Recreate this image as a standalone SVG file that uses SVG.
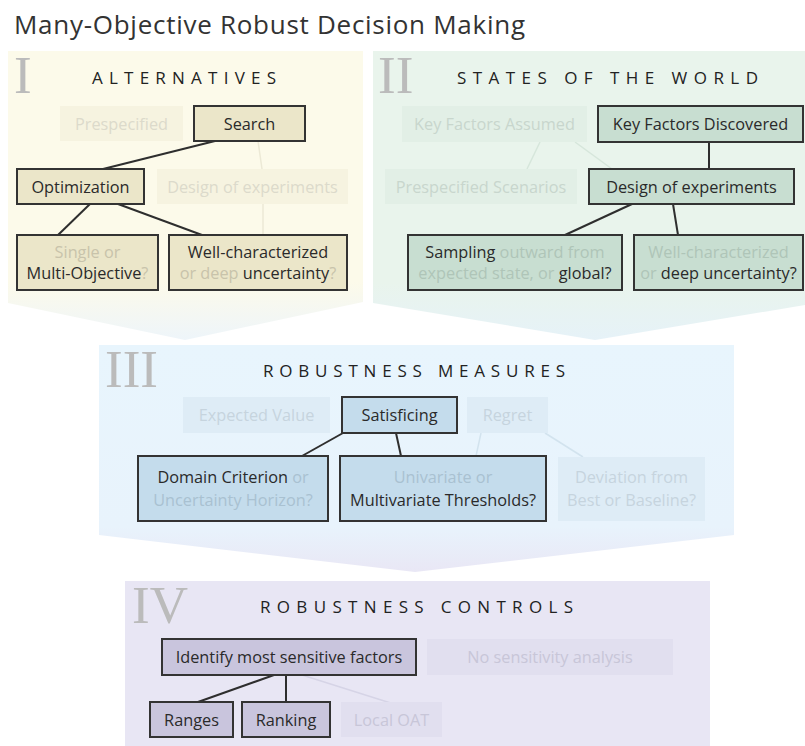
<svg xmlns="http://www.w3.org/2000/svg" width="805" height="746" viewBox="0 0 805 746">
  <defs>
    <linearGradient id="gradAlt" gradientUnits="userSpaceOnUse" x1="0" y1="51" x2="0" y2="340">
      <stop offset="0" stop-color="#fcfaea"/>
      <stop offset="0.8" stop-color="#fcfaea"/>
      <stop offset="1" stop-color="#eef5fa"/>
    </linearGradient>
    <linearGradient id="gradSow" gradientUnits="userSpaceOnUse" x1="0" y1="51" x2="0" y2="340">
      <stop offset="0" stop-color="#e9f4ec"/>
      <stop offset="0.8" stop-color="#e9f4ec"/>
      <stop offset="1" stop-color="#e6f2f8"/>
    </linearGradient>
    <linearGradient id="gradMeas" gradientUnits="userSpaceOnUse" x1="0" y1="345" x2="0" y2="572">
      <stop offset="0" stop-color="#e8f5fd"/>
      <stop offset="0.8" stop-color="#e8f3fc"/>
      <stop offset="1" stop-color="#e9e7f5"/>
    </linearGradient>
  </defs>
  <style>
    .title { font-family: "Open Sans", "Liberation Sans", sans-serif; font-size: 26px; fill: #333; }
    .num { font-family: "Liberation Serif", serif; font-size: 53px; fill: #bbbbbb; }
    .head { font-family: "Open Sans", "Liberation Sans", sans-serif; font-size: 17px; fill: #222; }
    .lbl { font-family: "Open Sans", "Liberation Sans", sans-serif; font-size: 16.3px; fill: #2a2a2a; text-anchor: middle; }
    .box { stroke: #333; stroke-width: 2; }
    .alt .box { fill: #ebe6c9; }
    .sow .box { fill: #c8ded1; }
    .meas .box { fill: #c4dcec; }
    .ctl .box { fill: #c9c5dd; }
    .alt .ghost rect { fill: #f6f3e0; }
    .sow .ghost rect { fill: #e2efe6; }
    .meas .ghost rect { fill: #deecf6; }
    .ctl .ghost rect { fill: #e1dfef; }
    .alt .dim { fill: #c8c3ab; }
    .sow .dim { fill: #afc5b8; }
    .meas .dim { fill: #a9c1d1; }
    .ctl .dim { fill: #b3afc8; }
    .alt .ghost .lbl { fill: #dcdacb; }
    .sow .ghost .lbl { fill: #c8d6cd; }
    .meas .ghost .lbl { fill: #c6d4de; }
    .ctl .ghost .lbl { fill: #c8c6d8; }
    .link { stroke: #2e2e2e; stroke-width: 2; fill: none; }
    .faint { stroke-width: 1.5; fill: none; }
    .alt-f { stroke: #ece9d6; }
    .sow-f { stroke: #d6e6db; }
    .meas-f { stroke: #d2e3ee; }
    .ctl-f { stroke: #d6d4e6; }
  </style>

  <!-- panel backgrounds -->
  <g id="panels">
    <polygon points="8,51 363,51 363,302 185,340 8,303" fill="url(#gradAlt)"/>
    <polygon points="373,51 805,51 805,305 595,340 373,303" fill="url(#gradSow)"/>
    <polygon points="99,345 734,345 734,535 415,572 99,535" fill="url(#gradMeas)"/>
    <rect x="125" y="581" width="585" height="165" fill="#e8e6f4"/>
  </g>

  <text class="title" x="14" y="34" textLength="511" lengthAdjust="spacing">Many-Objective Robust Decision Making</text>

  <!-- section headings -->
  <g id="headings">
    <text class="num" x="14" y="93">I</text>
    <text class="head" x="92" y="84" textLength="184" lengthAdjust="spacing">ALTERNATIVES</text>
    <text class="num" x="378" y="93">II</text>
    <text class="head" x="457" y="84" textLength="301" lengthAdjust="spacing">STATES OF THE WORLD</text>
    <text class="num" x="105" y="387">III</text>
    <text class="head" x="263" y="377" textLength="302" lengthAdjust="spacing">ROBUSTNESS MEASURES</text>
    <text class="num" x="132" y="623">IV</text>
    <text class="head" x="260" y="613" textLength="313" lengthAdjust="spacing">ROBUSTNESS CONTROLS</text>
  </g>

  <!-- connectors -->
  <g id="connectors">
    <line class="faint alt-f" x1="258" y1="141" x2="262" y2="169"/>
    <line class="faint alt-f" x1="263" y1="204" x2="263" y2="235"/>
    <line class="link" x1="215" y1="141" x2="103" y2="169"/>
    <line class="link" x1="90" y1="204" x2="58" y2="235"/>
    <line class="link" x1="118" y1="204" x2="202" y2="235"/>

    <line class="faint sow-f" x1="540" y1="142" x2="527" y2="169"/>
    <line class="faint sow-f" x1="575" y1="142" x2="612" y2="169"/>
    <line class="link" x1="709" y1="142" x2="709" y2="169"/>
    <line class="link" x1="632" y1="204" x2="565" y2="235"/>
    <line class="link" x1="673" y1="204" x2="678" y2="235"/>

    <line class="faint meas-f" x1="481" y1="433" x2="476" y2="456"/>
    <line class="faint meas-f" x1="545" y1="433" x2="583" y2="457"/>
    <line class="link" x1="343" y1="433" x2="302" y2="456"/>
    <line class="link" x1="396" y1="433" x2="401" y2="456"/>

    <line class="faint ctl-f" x1="302" y1="675" x2="397" y2="705"/>
    <line class="link" x1="274" y1="675" x2="198" y2="702"/>
    <line class="link" x1="286" y1="675" x2="286" y2="702"/>
  </g>

  <!-- I: alternatives -->
  <g class="alt">
    <g id="prespecified" class="ghost">
      <rect x="60" y="106" width="123" height="35"/>
      <text class="lbl" x="121.5" y="130">Prespecified</text>
    </g>
    <g id="search">
      <rect class="box" x="194" y="106" width="111" height="35"/>
      <text class="lbl" x="249.5" y="130">Search</text>
    </g>
    <g id="optimization">
      <rect class="box" x="17" y="169" width="127" height="35"/>
      <text class="lbl" x="80.5" y="193">Optimization</text>
    </g>
    <g id="alt-design" class="ghost">
      <rect x="157" y="169" width="191" height="35"/>
      <text class="lbl" x="252.5" y="193">Design of experiments</text>
    </g>
    <g id="objectives">
      <rect class="box" x="17" y="235" width="141" height="55"/>
      <text class="lbl" x="87.5" y="258"><tspan class="dim">Single or</tspan></text>
      <text class="lbl" x="87.5" y="279">Multi-Objective<tspan class="dim">?</tspan></text>
    </g>
    <g id="alt-uncertainty">
      <rect class="box" x="169" y="235" width="178" height="55"/>
      <text class="lbl" x="258" y="258">Well-characterized</text>
      <text class="lbl" x="258" y="279"><tspan class="dim">or deep</tspan> uncertainty<tspan class="dim">?</tspan></text>
    </g>
  </g>

  <!-- II: states of the world -->
  <g class="sow">
    <g id="factors-assumed" class="ghost">
      <rect x="402" y="106" width="185" height="36"/>
      <text class="lbl" x="494.5" y="130">Key Factors Assumed</text>
    </g>
    <g id="factors-discovered">
      <rect class="box" x="598" y="106" width="205" height="36"/>
      <text class="lbl" x="700.5" y="130">Key Factors Discovered</text>
    </g>
    <g id="scenarios" class="ghost">
      <rect x="385" y="169" width="192" height="35"/>
      <text class="lbl" x="481" y="193">Prespecified Scenarios</text>
    </g>
    <g id="sow-design">
      <rect class="box" x="589" y="169" width="205" height="35"/>
      <text class="lbl" x="691.5" y="193">Design of experiments</text>
    </g>
    <g id="sampling">
      <rect class="box" x="408" y="235" width="214" height="55"/>
      <text class="lbl" x="515" y="258">Sampling<tspan class="dim"> outward from</tspan></text>
      <text class="lbl" x="515" y="279"><tspan class="dim">expected state, or</tspan> global?</text>
    </g>
    <g id="sow-uncertainty">
      <rect class="box" x="634" y="235" width="169" height="55"/>
      <text class="lbl" x="718.5" y="258"><tspan class="dim">Well-characterized</tspan></text>
      <text class="lbl" x="718.5" y="279"><tspan class="dim">or</tspan> deep uncertainty?</text>
    </g>
  </g>

  <!-- III: robustness measures -->
  <g class="meas">
    <g id="expected-value" class="ghost">
      <rect x="183" y="397" width="147" height="36"/>
      <text class="lbl" x="256.5" y="421">Expected Value</text>
    </g>
    <g id="satisficing">
      <rect class="box" x="342" y="397" width="115" height="36"/>
      <text class="lbl" x="399.5" y="421">Satisficing</text>
    </g>
    <g id="regret" class="ghost">
      <rect x="467" y="397" width="81" height="36"/>
      <text class="lbl" x="507.5" y="421">Regret</text>
    </g>
    <g id="domain-criterion">
      <rect class="box" x="138" y="456" width="190" height="65"/>
      <text class="lbl" x="233" y="483">Domain Criterion<tspan class="dim"> or</tspan></text>
      <text class="lbl" x="233" y="506"><tspan class="dim">Uncertainty Horizon?</tspan></text>
    </g>
    <g id="thresholds">
      <rect class="box" x="340" y="456" width="206" height="65"/>
      <text class="lbl" x="443" y="483"><tspan class="dim">Univariate or</tspan></text>
      <text class="lbl" x="443" y="506">Multivariate Thresholds?</text>
    </g>
    <g id="deviation" class="ghost">
      <rect x="558" y="457" width="147" height="64"/>
      <text class="lbl" x="631.5" y="483">Deviation from</text>
      <text class="lbl" x="631.5" y="506">Best or Baseline?</text>
    </g>
  </g>

  <!-- IV: robustness controls -->
  <g class="ctl">
    <g id="sensitive-factors">
      <rect class="box" x="162" y="639" width="254" height="36"/>
      <text class="lbl" x="289" y="663">Identify most sensitive factors</text>
    </g>
    <g id="no-sensitivity" class="ghost">
      <rect x="427" y="639" width="246" height="36"/>
      <text class="lbl" x="550" y="663">No sensitivity analysis</text>
    </g>
    <g id="ranges">
      <rect class="box" x="150" y="702" width="83" height="35"/>
      <text class="lbl" x="191.5" y="726">Ranges</text>
    </g>
    <g id="ranking">
      <rect class="box" x="242" y="702" width="88" height="35"/>
      <text class="lbl" x="286" y="726">Ranking</text>
    </g>
    <g id="local-oat" class="ghost">
      <rect x="341" y="702" width="101" height="35"/>
      <text class="lbl" x="391.5" y="726">Local OAT</text>
    </g>
  </g>
</svg>
